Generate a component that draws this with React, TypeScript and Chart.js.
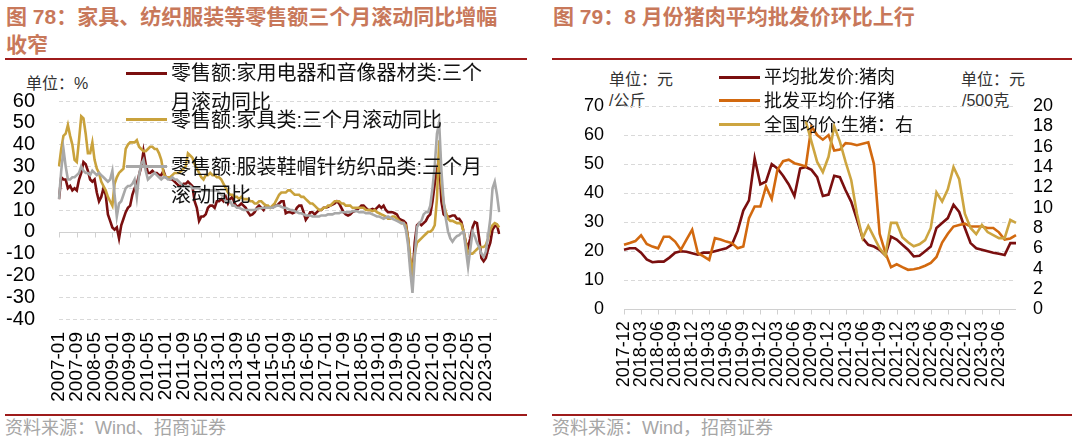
import React, { useEffect, useRef } from 'react';
import { Chart, registerables } from 'chart.js';

Chart.register(...registerables);

const NUM_FONT = '"Liberation Sans", Arial, sans-serif';
const CJK_FONT = '"Liberation Sans", "Noto Sans CJK SC", sans-serif';
Chart.defaults.font.family = NUM_FONT;

function monthSeq(y: number, m: number, n: number): string[] {
  const out: string[] = [];
  for (let k = 0; k < n; k++) {
    const t = m - 1 + k;
    const yy = y + Math.floor(t / 12);
    const mm = (t % 12) + 1;
    out.push(`${yy}-${String(mm).padStart(2, '0')}`);
  }
  return out;
}

// ---------- Figure 78: retail sales, 3-month rolling YoY (%) ----------
const retailMonths = monthSeq(2007, 1, 199);

const homeAppliance = [
  15, 25, 24, 24, 20, 21, 19, 20, 19, 24,
  27, 32, 31, 28, 24, 23, 24, 18, 14, 16,
  20, 17, 8, 5, 2, 1, 2, -3, 3, 6,
  9, 11, 12, 17, 20, 22, 26, 30, 37, 31,
  27, 27, 28, 27, 27, 26, 26, 28, 25, 25,
  24, 24, 23, 22, 21, 21, 22, 22, 23, 22,
  21, 14, 11, 5, 7, 7, 8, 11, 12, 12,
  11, 14, 14, 15, 14, 16, 13, 15, 16, 13,
  11.5, 12, 13, 12, 11, 9, 7.5, 8, 9, 11,
  12, 11, 10, 12, 11, 11, 11, 12, 12, 13,
  14, 14, 8.5, 9, 9, 8.5, 9, 11, 12, 12,
  9, 5.5, 7, 9, 9, 8, 9, 10, 10, 11,
  11, 11.5, 12, 12.5, 13, 14, 13, 11, 9, 8,
  7.5, 8, 9, 9.5, 10, 11, 12, 12, 11, 10,
  10, 10.5, 10, 11, 12, 11, 12, 10, 9, 9,
  9, 8.5, 8, 6, 5.5, 5, 4, -3, -14, -21,
  -5, 3, 4, 3, 4, 5, 7, 8, 14, 22,
  28, 34, 14, 8, 7, 7, 7, 7.5, 7.5, 6,
  6, 4.5, 0, -5, -7, -3, 2, 4.5, 4, -3,
  -12, -13.5, -12, -8, -5, 1, 2.5, 3, -1,
];

const furniture = [
  30, 38, 44, 45, 49, 44, 40, 33, 32, 42,
  53, 52, 45, 36, 36, 41, 33, 29, 27, 23,
  21, 19, 16, 14, 12, 22, 25, 27, 28, 29,
  38, 40, 41, 41, 41, 42, 39, 38, 37, 37,
  38, 39, 39, 38, 38, 36, 33, 27, 25, 25,
  25, 26, 27, 27, 27, 28, 29, 30, 36, 35,
  34, 31, 29, 27, 25, 24, 26, 26, 27, 26,
  26, 25, 25, 24, 22, 20, 18, 17, 17, 16,
  16, 15, 16, 15, 15, 15, 14, 14, 13, 13,
  14, 14, 13, 12, 12, 11, 12, 13, 15, 17,
  18, 18, 18, 19, 19, 18, 17, 17, 17, 16,
  16, 15, 14, 13, 13, 12, 11, 10, 10, 11,
  11, 12, 12, 13, 14, 14, 14, 13, 13, 12,
  12, 12, 11, 11, 11, 11, 11, 11, 10, 10,
  10, 9.5, 10, 9, 8.5, 8, 7.5, 7, 6, 6,
  7, 7, 6, 5, 4, 4, 3, -3, -12, -19,
  -10, -5, -4, -3, -2, -1, 0, 0, 1, 3,
  15, 42, 22, 13, 9, 6, 5, 5, 4.5, 4,
  4, 3.5, 0, -5, -10, -10, -10, -9, -8, -7,
  -7, -7, -6, -3, 1, 3, 4, 3.5, 2,
];

const apparel = [
  15, 28, 38, 30, 24, 24, 25, 25, 26, 27,
  30, 28, 27, 27, 26, 28, 27, 26, 27, 26,
  25, 24, 23, 24, 28, 17, 7, 13, 14, 17,
  20, 21, 21, 22, 24, 16, 26, 31, 33, 28,
  24, 25, 26, 27, 26, 25, 24, 25, 25, 24,
  24, 25, 24, 24, 23, 22, 21, 21, 21, 21,
  20, 20, 20, 20, 19, 19, 19, 19, 19, 19,
  19, 19, 18, 17, 16, 14, 14, 14, 12, 12,
  11, 11, 10.5, 10, 10, 10, 10, 10, 10, 10.5,
  10.8, 10.8, 11, 11, 11, 11, 11, 11.5, 12, 12,
  11.5, 11, 11, 10.5, 10, 10, 9.5, 9, 8.5, 8.5,
  8, 7.5, 7.5, 7.5, 7, 7, 7, 7, 7.5, 7.5,
  7.5, 8, 8, 8, 8.5, 8.5, 8.5, 9, 9, 9,
  9, 9, 9.5, 9.5, 9.5, 9, 9, 9, 8.5, 8.5,
  8.5, 8, 7.5, 7, 7, 6.5, 6, 6.5, 7, 6.5,
  6, 5.5, 5, 4.5, 4, 4, 1, -6, -18, -28,
  -12, 2, 4, 5, 8, 9, 9, 12, 20, 30,
  45, 50, 28, 14, 6, 0, -3, -4.5, -3, -2,
  -1.5, -0.5, 0, -8, -16, -8, 0, -2, -5, -7,
  -10, -11.5, -9, -2, 6, 20, 23, 17, 9,
];

const retailYTicks = [-40, -30, -20, -10, 0, 10, 20, 30, 40, 50, 60];
const retailLabelEvery = 8;

// ---------- Figure 79: pig prices ----------
const pigMonths = monthSeq(2017, 12, 70);

const porkWholesale = [
  20.5, 21, 21, 19.5, 17.2, 16.2, 16.4, 16.4, 17.8, 19.5,
  20, 19.8, 19.3, 18.8, 19.5, 19.5, 20, 20.5, 21, 22.3,
  27, 34, 37.5, 52, 43, 44, 50, 48.5, 46, 43,
  39, 48.5, 49, 48, 45.5, 39, 39.5, 46, 45.5, 41,
  37, 31, 24.5, 22.2, 21.6, 20.5, 18.6, 25, 24, 22.2,
  20.5, 18.2, 18.4, 20, 21.6, 28, 29.7, 31.4, 36, 33.5,
  28, 22.8, 21, 20.5, 20, 19.5, 19.1, 18.7, 22.8, 22.8,
];

const pigletWholesale = [
  22.2, 22.8, 23.5, 25.5, 22.5, 21.6, 21, 25, 25, 23.3,
  20.5, 24, 27.4, 19.3, 18.2, 17, 24.5, 24, 23.3, 22.8,
  21, 21.6, 31.4, 35.4, 35.4, 42.3, 38, 48, 51, 51.5,
  50.3, 49.8, 49.2, 63, 60, 58.4, 60, 54.7, 55, 57.2,
  57, 56.5, 57, 57.5, 50, 26, 19.5, 14.5, 15.5, 14.5,
  13.6, 13.8, 14.2, 15, 16, 18, 23, 26, 28.5, 29,
  29.5, 28.5, 28.5, 28.5, 28, 28, 26.5, 24, 24.4, 25.5,
];

const hogNational = [
  null, null, null, null, null, null, null, null, null, null,
  null, null, null, null, null, null, null, null, null, null,
  null, null, null, null, null, null, null, null, null, null,
  null, null, 18.5, 16.5, 14.5, 13.5, 15, 18, 16.5, 14.5,
  12.7, 9.4, 7, 8.2, 7.1, 6, 5.3, 8.5, 8.5, 7.1,
  6.6, 6.2, 6.4, 6.8, 8, 11.5, 10.6, 11.8, 14, 12.8,
  9.4, 8, 7.4, 8.3, 7.6, 7.3, 7, 7, 8.8, 8.5,
];

const pigLeftTicks = [0, 10, 20, 30, 40, 50, 60, 70];
const pigRightTicks = [0, 2, 4, 6, 8, 10, 12, 14, 16, 18, 20];
const pigLabelEvery = 3;
const pigLastLabel = 66; // 2023-06 is the last category that carries a label

// ---------- helpers ----------
function axisLinePlugin(every: number, lastTick: number) {
  return {
    id: 'axisLine',
    beforeDatasetsDraw(chart: any) {
      const { ctx, chartArea, scales } = chart;
      const x = scales.x;
      const y = scales.y;
      const y0 = Math.round(y.getPixelForValue(0)) + 0.5;
      ctx.save();
      ctx.strokeStyle = '#D0D0D0';
      ctx.lineWidth = 1;
      ctx.setLineDash([]);
      ctx.beginPath();
      ctx.moveTo(chartArea.left, y0);
      ctx.lineTo(chartArea.right, y0);
      for (let i = 0; i <= lastTick; i += every) {
        const px = Math.round(x.getPixelForValue(i)) + 0.5;
        ctx.moveTo(px, y0);
        ctx.lineTo(px, y0 + 5);
      }
      ctx.stroke();
      ctx.restore();
    },
  };
}

const gridColor = (c: any) => (c.tick && c.tick.value === 0 ? 'rgba(0,0,0,0)' : '#D9D9D9');
const fixTicks = (vals: number[]) => (s: any) => {
  s.ticks = vals.map((v) => ({ value: v }));
};

function ChartBox({ left, top, width, height, make }: any) {
  const ref = useRef<HTMLCanvasElement>(null);
  useEffect(() => {
    const chart = new Chart(ref.current as HTMLCanvasElement, make());
    return () => chart.destroy();
  }, []);
  return (
    <canvas
      ref={ref}
      width={width}
      height={height}
      style={{ position: 'absolute', left, top, width, height }}
    />
  );
}

function Txt({ x, cy, size, color = '#000', weight = 400, children }: any) {
  return (
    <div
      style={{
        position: 'absolute',
        left: x,
        top: cy - size / 2,
        fontSize: size,
        lineHeight: `${size}px`,
        color,
        fontWeight: weight,
        fontFamily: CJK_FONT,
        whiteSpace: 'nowrap',
      }}
    >
      {children}
    </div>
  );
}

function Bar({ x, y, w, h, color }: any) {
  return <div style={{ position: 'absolute', left: x, top: y, width: w, height: h, background: color }} />;
}

const lineDs = (label: string, data: any[], color: string, order: number, yAxisID = 'y') => ({
  label,
  data,
  borderColor: color,
  backgroundColor: color,
  borderWidth: 2.6,
  pointRadius: 0,
  tension: 0,
  fill: false,
  order,
  yAxisID,
});

const C_MAROON = '#7A0F0F';
const C_GOLD = '#C9A23C';
const C_GRAY = '#A8A8A8';
const C_ORANGE = '#D2690F';
const C_HOG = '#CDA540';
const TITLE_C = '#C8785A';
const RULE_C = '#9E1B1B';

function makeRetail() {
  return {
    type: 'line',
    data: {
      labels: retailMonths,
      datasets: [
        lineDs('零售额:家用电器和音像器材类:三个月滚动同比', homeAppliance, C_MAROON, 3),
        lineDs('零售额:家具类:三个月滚动同比', furniture, C_GOLD, 2),
        lineDs('零售额:服装鞋帽针纺织品类:三个月滚动同比', apparel, C_GRAY, 1),
      ],
    },
    options: {
      responsive: false,
      animation: false,
      events: [],
      layout: { padding: { top: 39, right: 23, left: 0, bottom: 0 } },
      plugins: { legend: { display: false }, tooltip: { enabled: false } },
      scales: {
        x: {
          grid: { display: false, drawTicks: false },
          border: { display: false },
          ticks: {
            autoSkip: false,
            minRotation: 90,
            maxRotation: 90,
            padding: 13,
            color: '#000',
            font: { size: 19 },
            callback: (_v: any, i: number) => (i % retailLabelEvery === 0 ? retailMonths[i] : ''),
          },
          afterFit: (s: any) => {
            s.height = 93;
          },
        },
        y: {
          min: retailYTicks[0],
          max: retailYTicks[retailYTicks.length - 1],
          afterBuildTicks: fixTicks(retailYTicks),
          ticks: { autoSkip: false, padding: 24, color: '#000', font: { size: 20 } },
          grid: { drawTicks: false, color: gridColor, lineWidth: 1 },
          border: { display: false, dash: [4, 3] },
          afterFit: (s: any) => {
            s.width = 59;
          },
        },
      },
    },
    plugins: [axisLinePlugin(retailLabelEvery, retailMonths.length - 1)],
  };
}

function makePig() {
  return {
    type: 'line',
    data: {
      labels: pigMonths,
      datasets: [
        lineDs('平均批发价:猪肉', porkWholesale, C_MAROON, 3),
        lineDs('批发平均价:仔猪', pigletWholesale, C_ORANGE, 2),
        lineDs('全国均价:生猪：右', hogNational, C_HOG, 1, 'y1'),
      ],
    },
    options: {
      responsive: false,
      animation: false,
      events: [],
      layout: { padding: { top: 44, right: 0, left: 0, bottom: 0 } },
      plugins: { legend: { display: false }, tooltip: { enabled: false } },
      scales: {
        x: {
          grid: { display: false, drawTicks: false },
          border: { display: false },
          ticks: {
            autoSkip: false,
            minRotation: 90,
            maxRotation: 90,
            padding: 12,
            color: '#000',
            font: { size: 18 },
            callback: (_v: any, i: number) =>
              i % pigLabelEvery === 0 && i <= pigLastLabel ? pigMonths[i] : '',
          },
          afterFit: (s: any) => {
            s.height = 102.7;
          },
        },
        y: {
          position: 'left',
          min: pigLeftTicks[0],
          max: pigLeftTicks[pigLeftTicks.length - 1],
          afterBuildTicks: fixTicks(pigLeftTicks),
          ticks: { autoSkip: false, padding: 20, color: '#000', font: { size: 18 } },
          grid: { drawTicks: false, color: gridColor, lineWidth: 1 },
          border: { display: false, dash: [4, 3] },
          afterFit: (s: any) => {
            s.width = 84;
          },
        },
        y1: {
          position: 'right',
          min: pigRightTicks[0],
          max: pigRightTicks[pigRightTicks.length - 1],
          afterBuildTicks: fixTicks(pigRightTicks),
          ticks: { autoSkip: false, padding: 17, color: '#000', font: { size: 18 } },
          grid: { drawOnChartArea: false, drawTicks: false },
          border: { display: false },
          afterFit: (s: any) => {
            s.width = 64;
          },
        },
      },
    },
    plugins: [axisLinePlugin(pigLabelEvery, pigLastLabel)],
  };
}

export default function App() {
  return (
    <div
      style={{
        position: 'absolute',
        left: 0,
        top: 0,
        width: 1080,
        height: 440,
        background: '#fff',
        overflow: 'hidden',
      }}
    >
      {/* ---------- left panel ---------- */}
      <Txt x={6} cy={16} size={21} color={TITLE_C} weight={700}>
        图 78：家具、纺织服装等零售额三个月滚动同比增幅
      </Txt>
      <Txt x={6} cy={44} size={21} color={TITLE_C} weight={700}>
        收窄
      </Txt>
      <Bar x={5} y={58} w={522} h={2} color={RULE_C} />
      <Txt x={26} cy={84} size={16} color="#333">
        单位：%
      </Txt>

      {/* ---------- right panel header texts (drawn beneath the canvas) ---------- */}
      <Txt x={553} cy={16} size={21} color={TITLE_C} weight={700}>
        图 79：8 月份猪肉平均批发价环比上行
      </Txt>
      <Bar x={552} y={58} w={520} h={2} color={RULE_C} />
      <Txt x={609} cy={80} size={16} color="#333">
        单位：元
      </Txt>
      <Txt x={609} cy={101} size={16} color="#333">
        /公斤
      </Txt>
      <Txt x={961} cy={80} size={16} color="#333">
        单位：元
      </Txt>
      <Txt x={962} cy={101} size={16} color="#333">
        /500克
      </Txt>

      <ChartBox left={0} top={62} width={535} height={350} make={makeRetail} />
      <ChartBox left={540} top={62} width={540} height={350} make={makePig} />

      {/* ---------- left legend ---------- */}
      <Bar x={126} y={71.5} w={41} h={3} color={C_MAROON} />
      <Bar x={126} y={117.5} w={41} h={3} color={C_GOLD} />
      <Bar x={126} y={164.5} w={41} h={3} color={C_GRAY} />
      <Txt x={171} cy={73} size={20} color="#111">
        零售额:家用电器和音像器材类:三个
      </Txt>
      <Txt x={171} cy={102} size={20} color="#111">
        月滚动同比
      </Txt>
      <Txt x={171} cy={120} size={20} color="#111">
        零售额:家具类:三个月滚动同比
      </Txt>
      <Txt x={171} cy={167} size={20} color="#111">
        零售额:服装鞋帽针纺织品类:三个月
      </Txt>
      <Txt x={171} cy={195} size={20} color="#111">
        滚动同比
      </Txt>

      <Bar x={5} y={414} w={522} h={2} color={RULE_C} />
      <Txt x={5} cy={428} size={18} color="#A6A6A6">
        资料来源：Wind、招商证券
      </Txt>

      {/* ---------- right legend ---------- */}
      <Bar x={719} y={75.5} w={41} h={3} color={C_MAROON} />
      <Bar x={719} y={99} w={41} h={3} color={C_ORANGE} />
      <Bar x={719} y={123} w={41} h={3} color={C_HOG} />
      <Txt x={764} cy={77} size={18} color="#111">
        平均批发价:猪肉
      </Txt>
      <Txt x={764} cy={100.5} size={18} color="#111">
        批发平均价:仔猪
      </Txt>
      <Txt x={764} cy={124.5} size={18} color="#111">
        全国均价:生猪：右
      </Txt>

      <Bar x={552} y={414} w={520} h={2} color={RULE_C} />
      <Txt x={552} cy={428} size={18} color="#A6A6A6">
        资料来源：Wind，招商证券
      </Txt>
    </div>
  );
}
